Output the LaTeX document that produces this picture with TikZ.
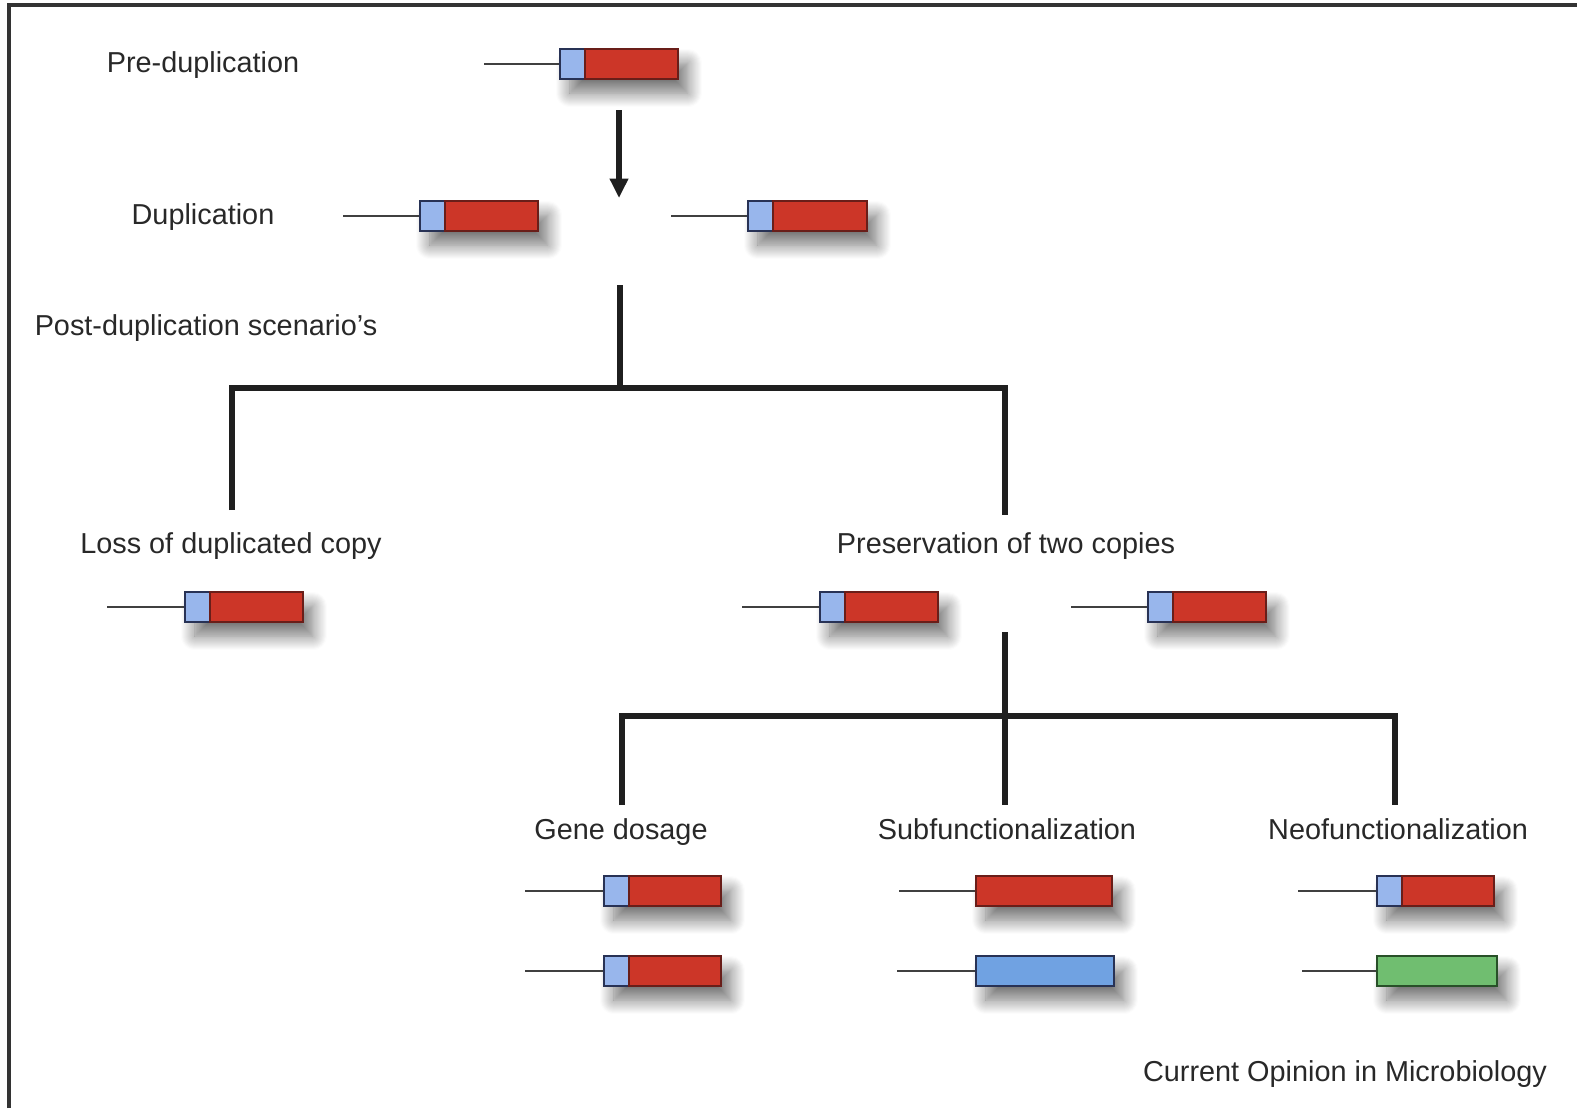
\documentclass[tikz,border=0pt]{standalone}
\usepackage{fontspec}
\setmainfont{Liberation Sans}
\usetikzlibrary{arrows.meta, shadows.blur}

\definecolor{cdsred}{RGB}{204,54,40}
\definecolor{cdsline}{RGB}{105,30,25}
\definecolor{promfill}{RGB}{152,182,236}
\definecolor{promline}{RGB}{40,50,85}
\definecolor{subblue}{RGB}{112,162,226}
\definecolor{neogreen}{RGB}{112,190,112}
\definecolor{neoline}{RGB}{40,80,40}
\definecolor{txtgray}{RGB}{40,40,40}

\tikzset{
  lbl/.style={font=\fontsize{8.2}{9.5}\selectfont, text=txtgray, inner sep=0pt,
      text height=1.6ex, text depth=0.45ex},
  branch/.style={line width=1.45pt, black!88},
  prom/.style={line width=0.45pt, black!75},
  box/.style={line width=0.55pt},
  gshadow/.style={blur shadow={shadow xshift=2.8pt, shadow yshift=-4pt,
      shadow blur radius=4pt, shadow blur steps=14, shadow opacity=55}},
}

% gene with promoter: name, line start, box start, y, box end
\newcommand{\gene}[5]{%
  \coordinate (#1-tss) at (#2,#4);
  \coordinate (#1-a) at (#3,#4-15);
  \coordinate (#1-b) at (#5,#4+15);
  \path[gshadow, fill=white] (#1-a) rectangle (#1-b);
  \draw[prom] (#1-tss) -- (#3,#4);
  \draw[box, draw=promline, fill=promfill] (#1-a) rectangle (#3+25,#4+15);
  \draw[box, draw=cdsline, fill=cdsred] (#3+25,#4-15) rectangle (#1-b);
}
% one-colour gene: name, line start, box start, y, box end, fill, border
\newcommand{\cds}[7]{%
  \coordinate (#1-tss) at (#2,#4);
  \coordinate (#1-a) at (#3,#4-15);
  \coordinate (#1-b) at (#5,#4+15);
  \path[gshadow, fill=white] (#1-a) rectangle (#1-b);
  \draw[prom] (#1-tss) -- (#3,#4);
  \draw[box, draw=#7, fill=#6] (#1-a) rectangle (#1-b);
}

\begin{document}
\begin{tikzpicture}[x=0.01cm, y=-0.01cm]
  \useasboundingbox (0,0) rectangle (1577,1108);
  % frame
  \draw[line width=1.2pt, black!80] (9,1108) -- (9,5) -- (1577,5);

  % labels
  \node[lbl] (pre) at (203,62) {Pre-duplication};
  \node[lbl] (dup) at (203,214) {Duplication};
  \node[lbl] (post) at (206,325) {Post-duplication scenario's};
  \node[lbl] (loss) at (231,543) {Loss of duplicated copy};
  \node[lbl] (pres) at (1006,543) {Preservation of two copies};
  \node[lbl] (dosage) at (621,829) {Gene dosage};
  \node[lbl] (subf) at (1007,829) {Subfunctionalization};
  \node[lbl] (neof) at (1398,829) {Neofunctionalization};
  \node[lbl] (journal) at (1345,1071) {Current Opinion in Microbiology};

  % genes
  \gene{g0}{484}{560}{64}{678}
  \gene{d1}{343}{420}{216}{538}
  \gene{d2}{671}{748}{216}{867}
  \gene{l1}{107}{185}{607}{303}
  \gene{p1}{742}{820}{607}{938}
  \gene{p2}{1071}{1148}{607}{1266}
  \gene{gd1}{525}{604}{891}{721}
  \gene{gd2}{525}{604}{971}{721}
  \cds{sf1}{899}{976}{891}{1112}{cdsred}{cdsline}
  \cds{sf2}{897}{976}{971}{1114}{subblue}{promline}
  \gene{nf1}{1298}{1377}{891}{1494}
  \cds{nf2}{1302}{1377}{971}{1497}{neogreen}{neoline}

  % duplication arrow
  \coordinate (arrTop) at (619,110);
  \coordinate (arrTip) at (619,198);
  \draw[branch, -{Triangle[length=5.5pt, width=5pt]}] (arrTop) -- (arrTip);

  % first split
  \coordinate (split1) at (620,285);
  \coordinate (hub1) at (620,388);
  \coordinate (lossEnd) at (232,510);
  \coordinate (presEnd) at (1005,515);
  \draw[branch] (split1) -- (hub1);
  \draw[branch] (lossEnd) |- (hub1) -| (presEnd);

  % second split
  \coordinate (split2) at (1005,632);
  \coordinate (hub2) at (1005,716);
  \coordinate (dosEnd) at (622,805);
  \coordinate (subEnd) at (1005,805);
  \coordinate (neoEnd) at (1395,805);
  \draw[branch] (split2) -- (subEnd);
  \draw[branch] (dosEnd) |- (hub2) -| (neoEnd);
\end{tikzpicture}
\end{document}
